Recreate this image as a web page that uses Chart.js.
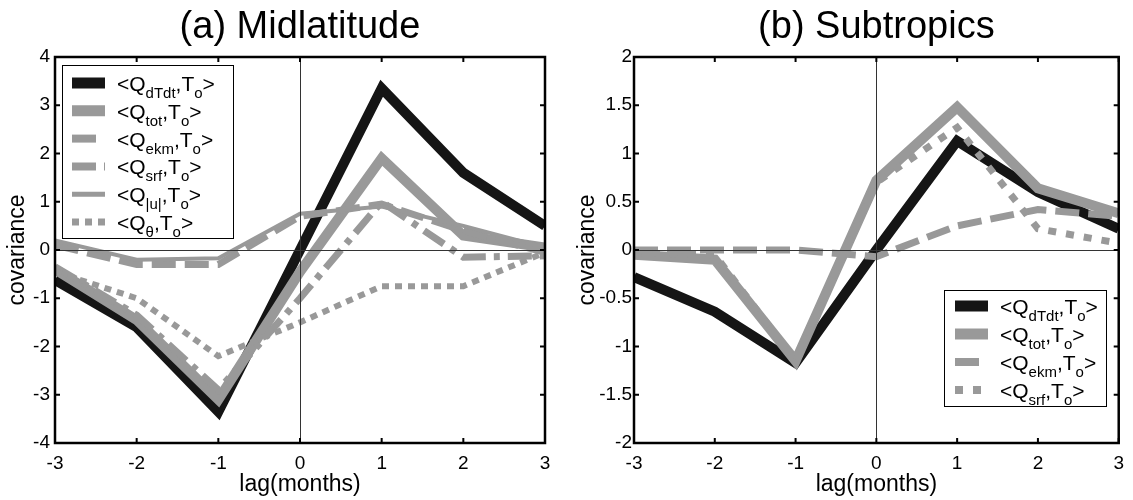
<!DOCTYPE html>
<html><head><meta charset="utf-8">
<script src="https://cdn.jsdelivr.net/npm/chart.js@4/dist/chart.umd.min.js"></script>
<style>
html,body{margin:0;padding:0;background:#fff;width:1133px;height:500px;overflow:hidden}
canvas{position:absolute;top:0}
#c1{left:0}
#c2{left:566px}
</style></head><body>
<canvas id="c1" width="566" height="500"></canvas>
<canvas id="c2" width="567" height="500"></canvas>
<script>
const lags = [-3, -2, -1, 0, 1, 2, 3];
const xTicks = [-3, -2, -1, 0, 1, 2, 3];
const midYTicks = [-4, -3, -2, -1, 0, 1, 2, 3, 4];
const subYTicks = [-2, -1.5, -1, -0.5, 0, 0.5, 1, 1.5, 2];

// (a) Midlatitude
const midDTdt  = [-0.62, -1.6, -3.35, 0.0, 3.35, 1.6, 0.5];
const midTot   = [-0.4, -1.45, -3.1, -0.45, 1.9, 0.3, 0.05];
const midEkm   = [0.1, -0.3, -0.3, 0.7, 0.95, 0.4, -0.05];
const midSrf   = [-0.35, -1.35, -2.9, -1.0, 1.0, -0.15, -0.12];
const midU     = [0.2, -0.2, -0.17, 0.75, 0.9, 0.5, 0.05];
const midTheta = [-0.45, -1.0, -2.2, -1.5, -0.75, -0.75, -0.05];

// (b) Subtropics
const subDTdt = [-0.28, -0.64, -1.17, 0.0, 1.13, 0.6, 0.22];
const subTot  = [-0.05, -0.1, -1.15, 0.72, 1.48, 0.64, 0.38];
const subEkm  = [0.0, 0.0, 0.0, -0.07, 0.25, 0.42, 0.35];
const subSrf  = [-0.03, -0.05, -1.15, 0.7, 1.27, 0.22, 0.07];

const titles = ['(a) Midlatitude', '(b) Subtropics'];
const xTitle = 'lag(months)';
const yTitle = 'covariance';

const FONT = '"Liberation Sans", Arial, Helvetica, sans-serif';
const BLACK = '#151515';
const GRAY = '#999999';

function pts(arr){ return lags.map((l,i)=>({x:l, y:arr[i]})); }

function ds(label, sub, data, color, width, dash, order){
  return { label: label, sub: sub, data: pts(data), borderColor: color, backgroundColor: color,
    borderWidth: width, borderDash: dash, pointRadius: 0, tension: 0, fill: false,
    borderJoinStyle: 'miter', borderCapStyle: 'butt', order: order };
}

function decor(opt){
  return {
    id: 'decor',
    afterDatasetsDraw(chart){
      const ctx = chart.ctx, a = chart.chartArea, x = chart.scales.x, y = chart.scales.y;
      ctx.save();
      ctx.setLineDash([]);
      // zero lines
      ctx.strokeStyle = '#333'; ctx.lineWidth = 1;
      const x0 = Math.round(x.getPixelForValue(0)) + 0.5;
      const y0 = Math.round(y.getPixelForValue(0)) + 0.5;
      ctx.beginPath(); ctx.moveTo(x0, a.top); ctx.lineTo(x0, a.bottom); ctx.stroke();
      ctx.beginPath(); ctx.moveTo(a.left, y0); ctx.lineTo(a.right, y0); ctx.stroke();
      // inward ticks
      ctx.strokeStyle = '#000'; ctx.lineWidth = 2;
      x.ticks.forEach(t => { const p = x.getPixelForValue(t.value);
        ctx.beginPath(); ctx.moveTo(p, a.bottom); ctx.lineTo(p, a.bottom - 5);
        ctx.moveTo(p, a.top); ctx.lineTo(p, a.top + 5); ctx.stroke(); });
      y.ticks.forEach(t => { const p = y.getPixelForValue(t.value);
        ctx.beginPath(); ctx.moveTo(a.left, p); ctx.lineTo(a.left + 5, p);
        ctx.moveTo(a.right, p); ctx.lineTo(a.right - 5, p); ctx.stroke(); });
      // frame
      ctx.lineWidth = 2.5; ctx.strokeStyle = '#000';
      ctx.strokeRect(a.left, a.top, a.right - a.left, a.bottom - a.top);
      // title
      ctx.fillStyle = '#000';
      ctx.font = '38px ' + FONT; ctx.textAlign = 'center'; ctx.textBaseline = 'alphabetic';
      ctx.fillText(opt.title, (a.left + a.right) / 2, 38);
      // axis titles
      ctx.font = '23px ' + FONT; ctx.textBaseline = 'middle';
      ctx.fillText(xTitle, (a.left + a.right) / 2, 485);
      ctx.save(); ctx.translate(opt.yTitleX, (a.top + a.bottom) / 2); ctx.rotate(-Math.PI / 2);
      ctx.fillText(yTitle, 0, 0); ctx.restore();
      // legend
      const L = opt.legend;
      ctx.fillStyle = '#fff'; ctx.fillRect(L.x, L.y, L.w, L.h);
      ctx.strokeStyle = '#000'; ctx.lineWidth = 1;
      ctx.strokeRect(L.x + 0.5, L.y + 0.5, L.w, L.h);
      chart.data.datasets.forEach((d, i) => {
        const cy = L.y0 + i * L.dy;
        ctx.save();
        ctx.beginPath(); ctx.setLineDash(d.borderDash || []); ctx.lineCap = 'butt';
        ctx.lineWidth = d.borderWidth + 1; ctx.strokeStyle = d.borderColor;
        ctx.moveTo(L.sx, cy); ctx.lineTo(L.sx + 33, cy); ctx.stroke();
        ctx.restore();
        ctx.fillStyle = '#000'; ctx.textAlign = 'left'; ctx.textBaseline = 'alphabetic';
        let tx = L.tx; const base = cy + 8, sb = base + 7;
        const big = '21px ' + FONT, small = '15px ' + FONT;
        const put = (s, f, b) => { ctx.font = f; ctx.fillText(s, tx, b); tx += ctx.measureText(s).width; };
        put('<' + d.label, big, base); put(d.sub, small, sb); put(',', big, base);
        put('T', big, base); put('o', small, sb); put('>', big, base);
      });
      ctx.restore();
    }
  };
}

function makeChart(id, opt){
  return new Chart(document.getElementById(id), {
    type: 'line',
    data: { datasets: opt.datasets },
    options: {
      responsive: false, animation: false, devicePixelRatio: 1,
      layout: { padding: opt.padding },
      plugins: { legend: { display: false }, tooltip: { enabled: false } },
      scales: {
        x: { type: 'linear', min: -3, max: 3,
          afterBuildTicks: s => { s.ticks = xTicks.map(v => ({ value: v })); },
          afterFit: s => { s.height = 57; },
          grid: { display: false, drawTicks: false }, border: { display: false },
          ticks: { padding: 9, color: '#000', font: { family: FONT, size: 19 }, maxRotation: 0,
            callback: v => String(v) } },
        y: { type: 'linear', min: opt.yTicks[0], max: opt.yTicks[opt.yTicks.length - 1],
          afterBuildTicks: s => { s.ticks = opt.yTicks.map(v => ({ value: v })); },
          afterFit: s => { s.width = opt.yWidth; },
          grid: { display: false, drawTicks: false }, border: { display: false },
          ticks: { padding: opt.yPad, color: '#000', font: { family: FONT, size: 19 },
            callback: v => String(v) } }
      }
    },
    plugins: [decor(opt)]
  });
}

makeChart('c1', {
  title: titles[0], yTicks: midYTicks, yWidth: 55, yPad: 5, yTitleX: 18,
  padding: { top: 57, right: 21, bottom: 0, left: 0 },
  legend: { x: 62, y: 65, w: 171, h: 173, y0: 83, dy: 27.8, sx: 72, tx: 117 },
  datasets: [
    ds('Q', 'dTdt', midDTdt, BLACK, 10, [], 6),
    ds('Q', 'tot', midTot, GRAY, 10, [], 5),
    ds('Q', 'ekm', midEkm, GRAY, 7, [24, 9], 4),
    ds('Q', 'srf', midSrf, GRAY, 7, [24, 8, 6, 8], 3),
    ds('Q', '|u|', midU, GRAY, 4, [], 2),
    ds('Q', 'θ', midTheta, GRAY, 6, [7, 6], 1)
  ]
});

makeChart('c2', {
  title: titles[1], yTicks: subYTicks, yWidth: 68, yPad: 2, yTitleX: 22,
  padding: { top: 57, right: 8, bottom: 0, left: 0 },
  legend: { x: 378, y: 290, w: 162, h: 116, y0: 306, dy: 28, sx: 389, tx: 434 },
  datasets: [
    ds('Q', 'dTdt', subDTdt, BLACK, 10, [], 4),
    ds('Q', 'tot', subTot, GRAY, 10, [], 3),
    ds('Q', 'ekm', subEkm, GRAY, 7, [24, 9], 2),
    ds('Q', 'srf', subSrf, GRAY, 7, [8, 10], 1)
  ]
});
</script>
</body></html>
